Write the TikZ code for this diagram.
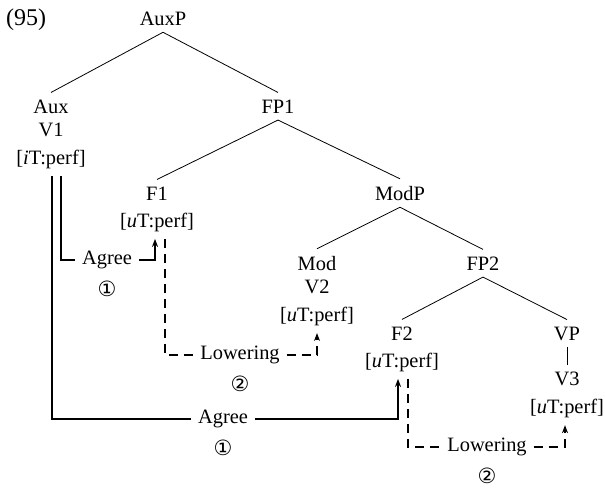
\documentclass[tikz,border=0pt]{standalone}
\usepackage{fontspec}
\setmainfont{Liberation Serif}
\newfontfamily\circfont{DejaVu Sans}
\usetikzlibrary{arrows.meta,positioning}

\begin{document}
\begin{tikzpicture}[x=0.5pt, y=-0.5pt,
  font=\fontsize{10.2}{12}\selectfont,
  agreeline/.style={line width=0.9pt},
  lowerline/.style={line width=0.9pt, dash pattern=on 4.5pt off 3pt},
  tip/.style={-{Stealth[length=4pt,width=3pt]}},
  circ/.style={font=\fontsize{10.5}{12}\circfont}]
\useasboundingbox (0,0) rectangle (605,488);

% tree
\node[anchor=base, font=\fontsize{12}{14}\selectfont] (ex) at (26,25) {(95)};
\node[anchor=base] (auxp) at (163,25) {AuxP};
\node[anchor=base] (aux) at (51,113) {Aux};
\node[below=-2pt of aux] (v1) {V1};
\node[below=-0.5pt of v1] (v1f) {[\textit{i}T:perf]};
\node[anchor=base] (fp1) at (278,113) {FP1};
\node[anchor=base] (f1) at (157,200) {F1};
\node[below=-0.5pt of f1] (f1f) {[\textit{u}T:perf]};
\node[anchor=base] (modp) at (400,200) {ModP};
\node[anchor=base] (mod) at (317,270) {Mod};
\node[below=-2pt of mod] (v2) {V2};
\node[below=-0.5pt of v2] (v2f) {[\textit{u}T:perf]};
\node[anchor=base] (fp2) at (483,270) {FP2};
\node[anchor=base] (f2) at (402,340) {F2};
\node[below=-0.5pt of f2] (f2f) {[\textit{u}T:perf]};
\node[anchor=base] (vp) at (567,340) {VP};
\node[below=9pt of vp] (v3) {V3};
\node[below=-0.5pt of v3] (v3f) {[\textit{u}T:perf]};

\draw (auxp.south) -- (aux.north);
\draw (auxp.south) -- (fp1.north);
\draw (fp1.south) -- (f1.north);
\draw (fp1.south) -- (modp.north);
\draw (modp.south) -- (mod.north);
\draw (modp.south) -- (fp2.north);
\draw (fp2.south) -- (f2.north);
\draw (fp2.south) -- (vp.north);
\draw (vp.south) -- (v3.north);

% labels
\node (agreeA) at (107,260) {Agree};
\node[circ, below=-1pt of agreeA] (oneA) {①};
\node (lowerA) at (240,355) {Lowering};
\node[circ, below=-1pt of lowerA] (twoA) {②};
\node (agreeB) at (223,419) {Agree};
\node[circ, below=-1pt of agreeB] (oneB) {①};
\node (lowerB) at (487,447) {Lowering};
\node[circ, below=-1pt of lowerB] (twoB) {②};

% Agree
\draw[agreeline] ([xshift=5pt]v1f.south) |- (agreeA.west);
\draw[agreeline, tip] (agreeA.east) -| ([xshift=-1pt]f1f.south);
\draw[agreeline] ([xshift=0.5pt]v1f.south) |- (agreeB.west);
\draw[agreeline, tip] (agreeB.east) -| ([xshift=-2pt]f2f.south);

% Lowering
\draw[lowerline] ([xshift=4pt]f1f.south) |- (lowerA.west);
\draw[lowerline, tip] (lowerA.east) -| (v2f.south);
\draw[lowerline] ([xshift=3pt]f2f.south) |- (lowerB.west);
\draw[lowerline, tip] (lowerB.east) -| ([xshift=-1pt]v3f.south);
\end{tikzpicture}
\end{document}
